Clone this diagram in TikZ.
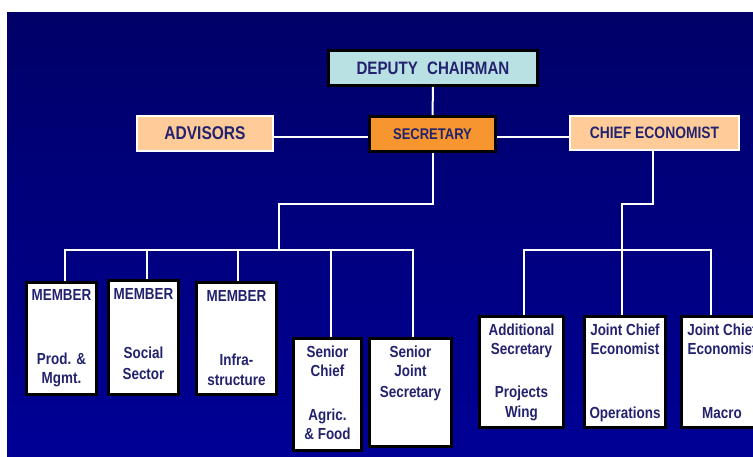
\documentclass[tikz,border=0pt]{standalone}
\usepackage{fontspec}
\setmainfont{Liberation Sans}[FakeStretch=0.84]
\definecolor{bgtop}{RGB}{0,0,104}
\definecolor{bgbot}{RGB}{0,0,150}
\definecolor{dcfill}{RGB}{185,225,228}
\definecolor{secfill}{RGB}{247,150,46}
\definecolor{peach}{RGB}{255,204,153}
\definecolor{ink}{RGB}{34,34,110}
\tikzset{
  blackbox/.style={draw=black, line width=3pt, inner sep=0pt, text=ink, font=\bfseries},
  whitebox/.style={draw=white, line width=2pt, fill=peach, inner sep=0pt, text=ink, font=\bfseries},
  membox/.style={blackbox, fill=white},
  lbl/.style={anchor=base, inner sep=0pt, text=ink, font=\fontsize{16}{20}\selectfont\bfseries},
  conn/.style={draw=white, line width=2pt}
}
\begin{document}
\begin{tikzpicture}[x=1pt,y=-1pt]
\useasboundingbox (0,0) rectangle (753,457);
\clip (0,0) rectangle (753,457);
\fill[white] (0,0) rectangle (753,457);
\shade[top color=bgtop, middle color=bgbot, bottom color=bgbot] (7,13) rectangle (753,457);

% top boxes
\node[blackbox, fill=dcfill, minimum width=209pt, minimum height=35pt,
      font=\fontsize{18}{20}\selectfont\bfseries] (dc) at (433,68) {DEPUTY\hspace{5pt} CHAIRMAN};
\node[blackbox, fill=secfill, minimum width=126pt, minimum height=35pt,
      font=\fontsize{15.5}{18}\selectfont\bfseries] (sec) at (432.5,134) {SECRETARY};
\node[whitebox, minimum width=136pt, minimum height=35pt,
      font=\fontsize{18.5}{20}\selectfont\bfseries] (adv) at (205,133.5) {ADVISORS};
\node[whitebox, minimum width=169pt, minimum height=34pt,
      font=\fontsize{16.5}{18}\selectfont\bfseries] (ce) at (654.5,133) {CHIEF ECONOMIST};

% bottom boxes
\node[membox, minimum width=70pt, minimum height=112pt] (b1) at (61.5,338.5) {};
\node[membox, minimum width=70pt, minimum height=114pt] (b2) at (143.5,337.5) {};
\node[membox, minimum width=80pt, minimum height=112pt] (b3) at (236.5,338.5) {};
\node[membox, minimum width=68pt, minimum height=112pt] (b4) at (327.5,394.5) {};
\node[membox, minimum width=82pt, minimum height=108pt] (b5) at (410.5,392.5) {};
\node[membox, minimum width=84pt, minimum height=111pt] (b6) at (521.5,372) {};
\node[membox, minimum width=81pt, minimum height=111pt] (b7) at (625,372) {};
\node[membox, minimum width=81pt, minimum height=111pt] (b8) at (722,372) {};

% labels
\node[lbl] (b1a) at (61.5,301) {MEMBER};
\node[lbl] (b1b) at (61.5,364) {Prod. \&};
\node[lbl] (b1c) at (61.5,384) {Mgmt.};
\node[lbl] (b2a) at (143.5,300) {MEMBER};
\node[lbl] (b2b) at (143.5,359) {Social};
\node[lbl] (b2c) at (143.5,379) {Sector};
\node[lbl] (b3a) at (236.5,302) {MEMBER};
\node[lbl] (b3b) at (236.5,365) {Infra-};
\node[lbl] (b3c) at (236.5,385) {structure};
\node[lbl] (b4a) at (327.5,357) {Senior};
\node[lbl] (b4b) at (327.5,377) {Chief};
\node[lbl] (b4c) at (327.5,420) {Agric.};
\node[lbl] (b4d) at (327.5,439) {\& Food};
\node[lbl] (b5a) at (410.5,357) {Senior};
\node[lbl] (b5b) at (410.5,377) {Joint};
\node[lbl] (b5c) at (410.5,397) {Secretary};
\node[lbl] (b6a) at (521.5,336) {Additional};
\node[lbl] (b6b) at (521.5,355) {Secretary};
\node[lbl] (b6c) at (521.5,397) {Projects};
\node[lbl] (b6d) at (521.5,417) {Wing};
\node[lbl] (b7a) at (625,336) {Joint Chief};
\node[lbl] (b7b) at (625,355) {Economist};
\node[lbl] (b7c) at (625,418) {Operations};
\node[lbl] (b8a) at (722,336) {Joint Chief};
\node[lbl] (b8b) at (722,355) {Economist};
\node[lbl] (b8c) at (722,418) {Macro};

% connectors top
\draw[conn] (dc.south) -- (sec.north);
\draw[conn] ([yshift=-3.5pt]adv.east) -- ([yshift=-3.5pt]adv.east -| sec.west);
\draw[conn] ([yshift=-3pt]sec.east) -- ([yshift=-3pt]sec.east -| ce.west);

% left tree
\coordinate (lj) at (279,204);
\coordinate (lbus) at (279,250);
\draw[conn] ([xshift=0.5pt]sec.south) |- (lj) -- (lbus);
\draw[conn] ([xshift=3.5pt]b1.north) |- ([xshift=2.5pt]b5.north |- lbus) -- ([xshift=2.5pt]b5.north);
\draw[conn] ([xshift=3.5pt]b2.north) -- ([xshift=3.5pt]b2.north |- lbus);
\draw[conn] ([xshift=1.5pt]b3.north) -- ([xshift=1.5pt]b3.north |- lbus);
\draw[conn] ([xshift=3.5pt]b4.north) -- ([xshift=3.5pt]b4.north |- lbus);

% right tree
\coordinate (rj) at (622,204);
\coordinate (rbus) at (622,250);
\draw[conn] ([xshift=-1.5pt]ce.south) |- (rj) -- ([xshift=-3pt]b7.north);
\draw[conn] ([xshift=2.5pt]b6.north) |- ([xshift=-11pt]b8.north |- rbus) -- ([xshift=-11pt]b8.north);
\end{tikzpicture}
\end{document}
